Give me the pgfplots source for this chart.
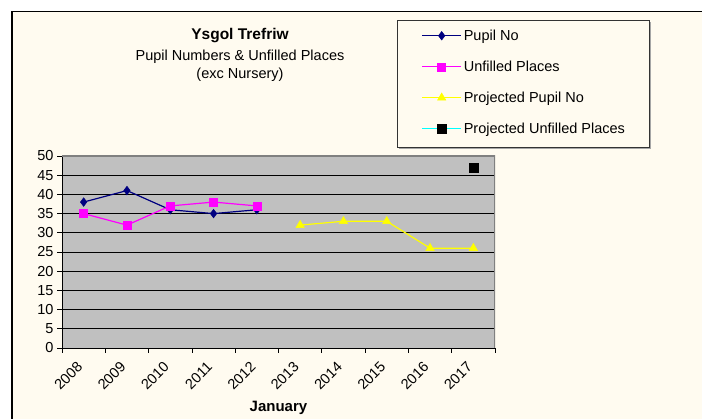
\documentclass[border=0pt]{standalone}
\usepackage{pgfplots}
\pgfplotsset{compat=1.18}
\usepackage{fontspec}
\setmainfont{Liberation Sans}
\definecolor{cream}{RGB}{255,251,240}
\definecolor{plotgrey}{RGB}{192,192,192}
\definecolor{navy}{RGB}{0,0,128}
\definecolor{xmagenta}{RGB}{255,0,255}
\definecolor{xyellow}{RGB}{255,255,0}
\definecolor{xcyan}{RGB}{0,255,255}
\begin{document}
\begin{tikzpicture}[x=1pt,y=1pt]
\useasboundingbox (0,0) rectangle (702,419);
\fill[white] (0,0) rectangle (702,419);
\fill[cream] (12,0) rectangle (702,407);
\draw[line width=1.6pt] (12,-2) -- (12,407.5) -- (704,407.5);
\node[anchor=base, font=\bfseries\fontsize{15.5}{17}\selectfont] at (240,379) {Ysgol Trefriw};
\node[anchor=base, font=\fontsize{14.5}{16}\selectfont] at (240,358) {Pupil Numbers \& Unfilled Places};
\node[anchor=base, font=\fontsize{14.5}{16}\selectfont] at (240,340) {(exc Nursery)};
\fill[gray!70] (399,270) rectangle (651,397);
\filldraw[fill=cream, draw=black!80, line width=0.8pt] (397,272) rectangle (649,399);
\begin{axis}[
  at={(62pt,71pt)}, anchor=south west,
  scale only axis, width=433pt, height=192pt,
  xmin=0, xmax=10, ymin=0, ymax=50,
  axis x line*=bottom, axis y line*=left,
  axis line style={black, line width=0.9pt, -},
  axis background/.style={fill=plotgrey},
  ytick={0,5,...,50},
  xtick={0,...,10},
  xticklabels={2008,2009,2010,2011,2012,2013,2014,2015,2016,2017,{}},
  tick align=outside, major tick length=5pt,
  tick style={black, line width=0.8pt},
  ymajorgrids, major grid style={black, line width=0.7pt},
  ticklabel style={font=\fontsize{14.5}{16}\selectfont},
  /pgf/number format/assume math mode=true,
  xticklabel style={rotate=45, anchor=north east, xshift=8pt, yshift=-12pt},
  xlabel={January},
  xlabel style={font=\bfseries\fontsize{15}{17}\selectfont, at={(axis description cs:0.5,-0.333)}, anchor=base},
  legend style={at={(axis description cs:0.83,1.669)}, anchor=north west,
    draw=none, fill=none, font=\fontsize{14.5}{16}\selectfont,
    inner sep=0pt, row sep=15pt,
    /tikz/every even column/.append style={column sep=4pt}},
  legend cell align=left,
  legend image code/.code={\draw[mark repeat=2,mark phase=2,#1,line width=1.2pt] plot coordinates {(0pt,0pt) (19.5pt,0pt) (39pt,0pt)};},
]
\addplot[navy, line width=1.2pt, mark=diamond*, mark size=4.3pt, mark options={fill=navy, draw=navy, line width=0.5pt}]
  coordinates {(0.5,38) (1.5,41) (2.5,36) (3.5,35) (4.5,36)};
\addlegendentry{Pupil No}
\addplot[xmagenta, line width=1.2pt, mark=square*, mark size=4pt, mark options={fill=xmagenta, draw=xmagenta, line width=0.5pt}]
  coordinates {(0.5,35) (1.5,32) (2.5,37) (3.5,38) (4.5,37)};
\addlegendentry{Unfilled Places}
\addplot[xyellow, line width=1.2pt, mark=triangle*, mark size=4.8pt, mark options={fill=xyellow, draw=xyellow, line width=0.5pt}]
  coordinates {(5.5,32) (6.5,33) (7.5,33) (8.5,26) (9.5,26)};
\addlegendentry{Projected Pupil No}
\addplot[xcyan, line width=1.2pt, mark=square*, mark size=4.5pt, mark options={fill=black, draw=black, line width=0.5pt}]
  coordinates {(9.5,47)};
\addlegendentry{Projected Unfilled Places}
\draw[gray, line width=1.2pt] (rel axis cs:0,1) -- (rel axis cs:1,1) -- (rel axis cs:1,0);
\end{axis}
\end{tikzpicture}
\end{document}
